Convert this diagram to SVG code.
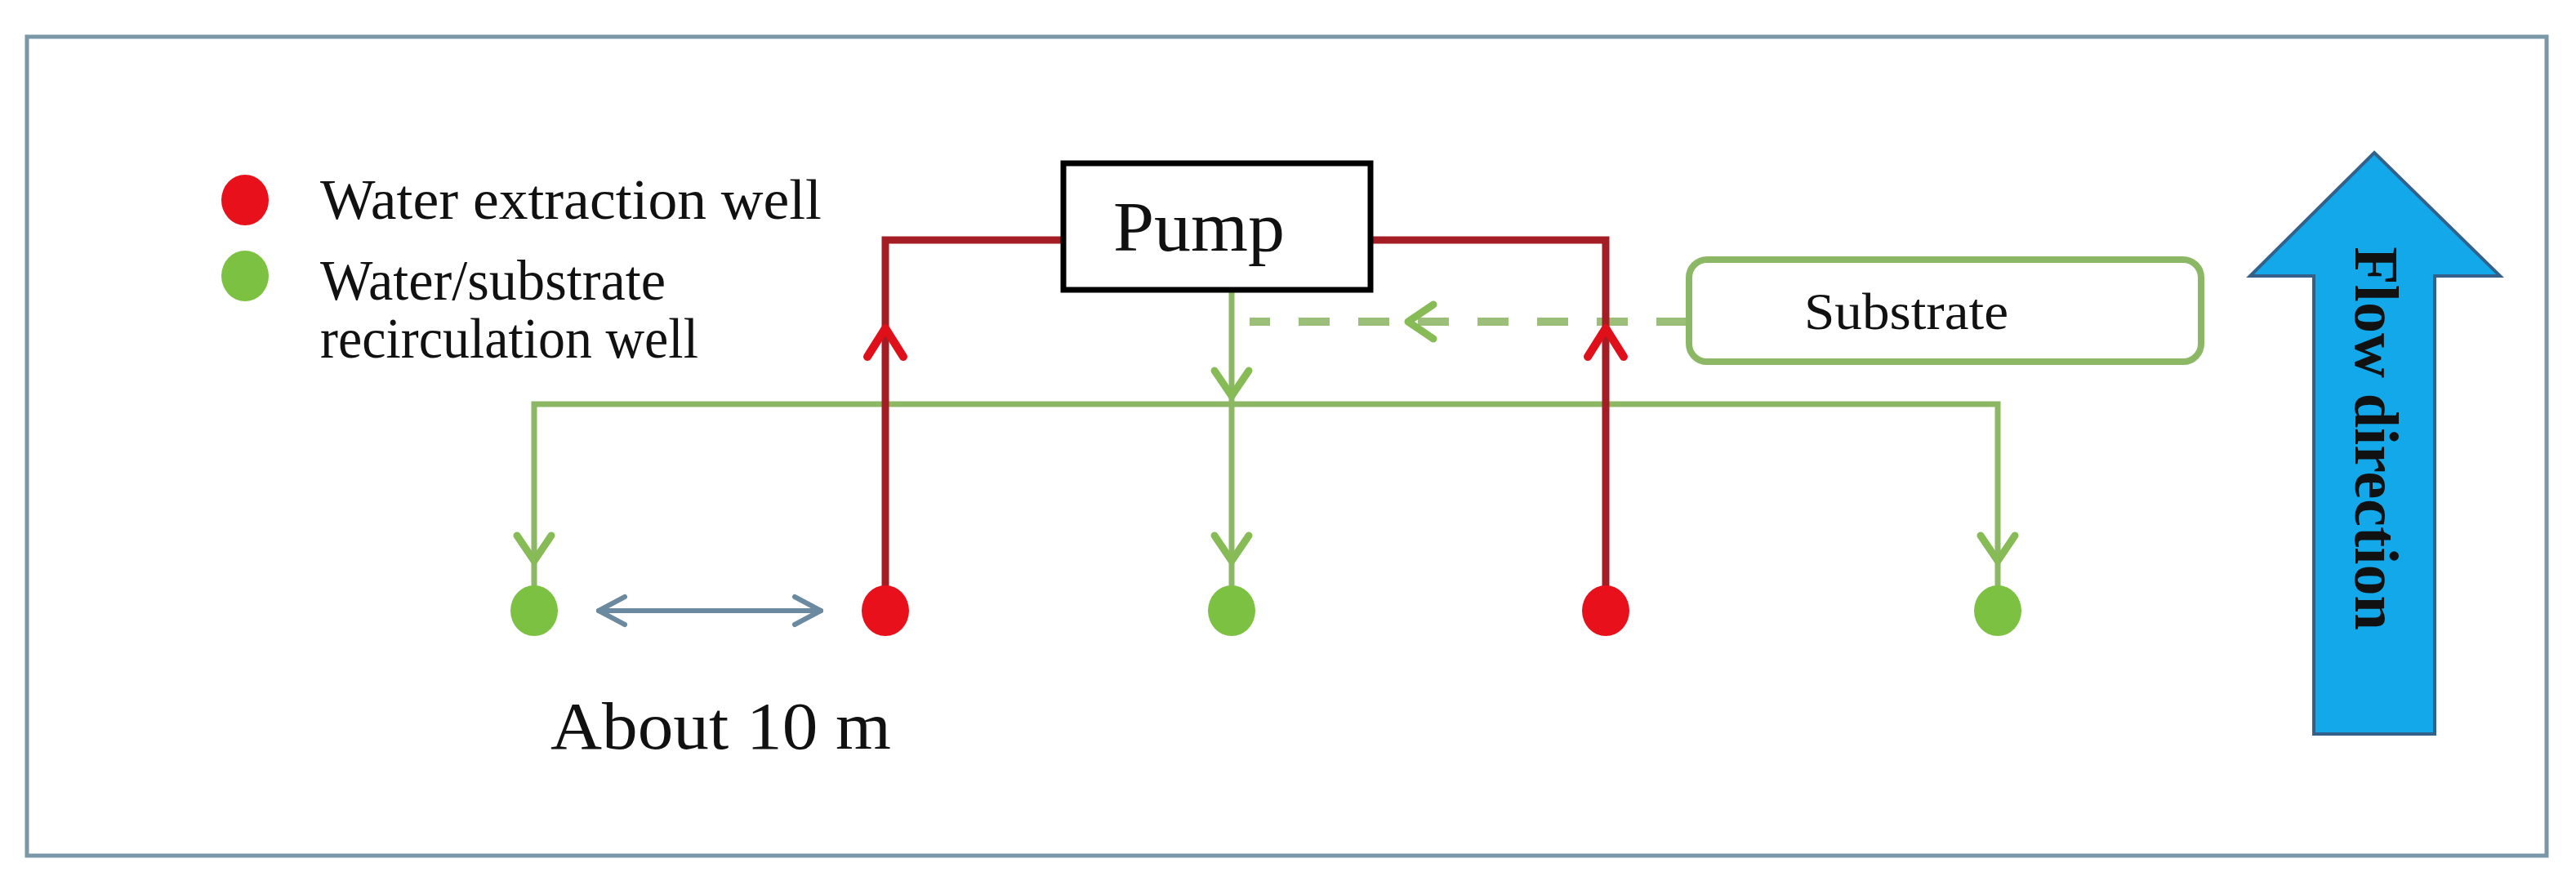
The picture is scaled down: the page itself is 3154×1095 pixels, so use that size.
<svg xmlns="http://www.w3.org/2000/svg" width="3154" height="1095" viewBox="0 0 3154 1095">
<style>
.serif{font-family:"Liberation Serif","Times New Roman",serif;fill:#111;}
.red{stroke:#a51d24;stroke-width:9;fill:none;}
.green{stroke:#8cb865;stroke-width:7;fill:none;}
.dash{stroke:#9bbf78;stroke-width:10;fill:none;stroke-dasharray:38 35;}
.chev-g{stroke:#86bb55;stroke-width:9;fill:none;stroke-linecap:round;stroke-linejoin:round;}
.chev-r{stroke:#e0101a;stroke-width:10;fill:none;stroke-linecap:round;stroke-linejoin:round;}
.dot-r{fill:#e8101a;}
.dot-g{fill:#7dc142;}
</style>
<defs>
<path id="chev" d="M-21,-31 L0,0 L21,-31"/>
<path id="chev-up" d="M-22,35 L0,0 L22,35"/>
</defs>
<rect x="0" y="0" width="3154" height="1095" fill="#ffffff"/>
<rect id="frame" x="33" y="45" width="3085" height="1003" fill="none" stroke="#7a97a8" stroke-width="5"/>

<g id="connectors">
  <!-- green recirculation header -->
  <path class="green" d="M654,748 L654,495 L2446,495 L2446,748"/>
  <path class="green" d="M1508,358 L1508,748"/>
  <!-- substrate dashed line -->
  <path class="dash" d="M2066,394 L1530,394"/>
  <!-- red extraction lines -->
  <path class="red" d="M1084,748 L1084,294 L1300,294"/>
  <path class="red" d="M1678,294 L1966,294 L1966,748"/>
  <!-- arrowheads -->
  <use href="#chev" class="chev-g" transform="translate(654,687)"/>
  <use href="#chev" class="chev-g" transform="translate(1508,485)"/>
  <use href="#chev" class="chev-g" transform="translate(1508,687)"/>
  <use href="#chev" class="chev-g" transform="translate(2446,687)"/>
  <use href="#chev" class="chev-g" transform="translate(1724,394) rotate(90)"/>
  <use href="#chev-up" class="chev-r" transform="translate(1084,402)"/>
  <use href="#chev-up" class="chev-r" transform="translate(1966,402)"/>
  <!-- distance arrow -->
  <g id="distance" stroke="#6b8aa0" stroke-width="6" fill="none" stroke-linecap="round" stroke-linejoin="round">
    <path d="M733,748 L1005,748"/>
    <path d="M765,731 L733,748 L765,765"/>
    <path d="M973,731 L1005,748 L973,765"/>
  </g>
</g>

<g id="legend">
  <ellipse class="dot-r" cx="300" cy="245" rx="29" ry="31"/>
  <ellipse class="dot-g" cx="300" cy="338" rx="29" ry="31"/>
  <text class="serif" x="392" y="268" font-size="70" textLength="614" lengthAdjust="spacingAndGlyphs">Water extraction well</text>
  <text class="serif" x="392" y="367" font-size="70" textLength="423" lengthAdjust="spacingAndGlyphs">Water/substrate</text>
  <text class="serif" x="392" y="438" font-size="70" textLength="463" lengthAdjust="spacingAndGlyphs">recirculation well</text>
</g>

<g id="pump">
  <rect x="1302" y="200" width="376" height="155" fill="#ffffff" stroke="#000" stroke-width="7"/>
  <text class="serif" x="1363" y="307" font-size="86" textLength="210" lengthAdjust="spacingAndGlyphs">Pump</text>
</g>

<g id="substrate">
  <rect x="2068" y="318" width="627" height="125" rx="22" fill="#ffffff" stroke="#8cb865" stroke-width="8"/>
  <text class="serif" x="2209" y="403" font-size="64" textLength="250" lengthAdjust="spacingAndGlyphs">Substrate</text>
</g>

<g id="well-g1"><ellipse class="dot-g" cx="654" cy="748" rx="29" ry="31"/></g>
<g id="well-r1"><ellipse class="dot-r" cx="1084" cy="748" rx="29" ry="31"/></g>
<g id="well-g2"><ellipse class="dot-g" cx="1508" cy="748" rx="29" ry="31"/></g>
<g id="well-r2"><ellipse class="dot-r" cx="1966" cy="748" rx="29" ry="31"/></g>
<g id="well-g3"><ellipse class="dot-g" cx="2446" cy="748" rx="29" ry="31"/></g>

<g id="distance-label">
  <text class="serif" x="674" y="917" font-size="82" textLength="417" lengthAdjust="spacingAndGlyphs">About 10 m</text>
</g>

<g id="flow-arrow">
  <path d="M2907,187 L3061,338 L2981,338 L2981,899 L2833,899 L2833,338 L2755,338 Z" fill="#12a8ea" stroke="#34618a" stroke-width="4" stroke-linejoin="miter"/>
  <text class="serif" transform="translate(2884,537) rotate(90)" x="0" y="0" font-size="76" font-weight="bold" text-anchor="middle">Flow direction</text>
</g>
</svg>
